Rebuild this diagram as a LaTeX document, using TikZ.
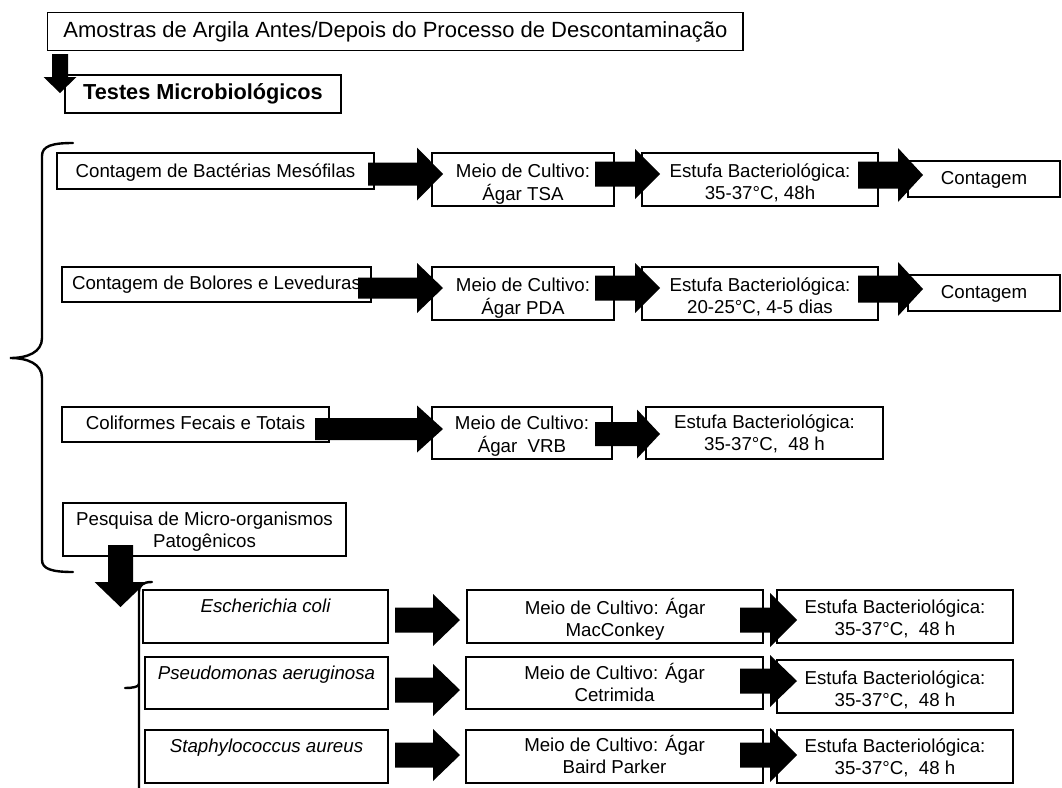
\documentclass[tikz,border=0pt]{standalone}
\usepackage{fontspec}
\setmainfont{Liberation Sans}
\usetikzlibrary{calc}
\tikzset{
  box/.style={draw=black, line width=1.2pt, fill=white, inner sep=0pt},
  txt/.style={inner sep=0pt, anchor=base, font=\fontsize{18.7}{22}\selectfont},
  brace/.style={draw=black, line width=2.4pt, line cap=round},
}
% name, x1, y1, x2, y2, text, baseline offset from top
\newcommand\mybox[7]{%
  \node[box, minimum width={#4pt-#2pt}, minimum height={#5pt-#3pt}] (#1) at ({(#2+#4)/2},{(#3+#5)/2}) {};
  \node[txt] (#1t) at ($(#1.north)+(0,#7)$) {\begin{tabular}[t]{@{}c@{}}#6\end{tabular}};}
% tail x, head base x, tip x, centre y, shaft half, head half
\newcommand\harrow[6]{\fill[black] (#1,{#4-#5}) -- (#2,{#4-#5}) -- (#2,{#4-#6}) -- (#3,#4) -- (#2,{#4+#6}) -- (#2,{#4+#5}) -- (#1,{#4+#5}) -- cycle;}
% centre x, tail y, head base y, tip y, shaft half, head half
\newcommand\varrow[6]{\fill[black] ({#1-#5},#2) -- ({#1+#5},#2) -- ({#1+#5},#3) -- ({#1+#6},#3) -- (#1,#4) -- ({#1-#6},#3) -- ({#1-#5},#3) -- cycle;}
\begin{document}
\begin{tikzpicture}[x=1pt,y=-1pt]
\useasboundingbox[fill=white] (0,0) rectangle (1062,787);
% header
\mybox{top}{47.7}{12.7}{743}{50.7}{\fontsize{22}{24}\selectfont Amostras de Argila Antes/Depois do Processo de Descontaminação}{25.6}
\mybox{testes}{65}{75}{341}{113}{\fontsize{21.7}{24}\selectfont\bfseries Testes Microbiológicos}{25}
% row 1
\mybox{b1}{57}{153}{374}{189}{Contagem de Bactérias Mesófilas}{25}
\mybox{b2}{432}{153}{614}{206}{Meio de Cultivo:\\Ágar TSA}{25}
\mybox{b3}{642}{153}{878}{206}{Estufa Bacteriológica:\\35-37°C, 48h}{25}
\mybox{b4}{908}{161}{1060}{197}{Contagem}{24}
% row 2
\mybox{c1}{62}{267}{371}{302}{Contagem de Bolores e Leveduras}{23}
\mybox{c2}{432}{267}{614}{320}{Meio de Cultivo:\\Ágar PDA}{25}
\mybox{c3}{642}{267}{878}{320}{Estufa Bacteriológica:\\20-25°C, 4-5 dias}{25}
\mybox{c4}{908}{275}{1060}{311}{Contagem}{24}
% row 3
\mybox{d1}{62}{407}{329}{442}{Coliformes Fecais e Totais}{23}
\mybox{d2}{432}{407}{612}{459}{Meio de Cultivo:\\Ágar\ \ VRB}{23}
\mybox{d3}{646}{407}{883}{459}{Estufa Bacteriológica:\\35-37°C,\ \ 48 h}{22}
% row 4
\mybox{e1}{63}{503}{346}{556}{Pesquisa de Micro-organismos\\Patogênicos}{23}
% lower section
\mybox{f1}{143}{590}{388}{643}{\itshape Escherichia coli}{23}
\mybox{f2}{145}{657}{388}{709}{\itshape Pseudomonas aeruginosa}{23}
\mybox{f3}{145}{730}{388}{783}{\itshape Staphylococcus aureus}{23}
\mybox{g1}{467}{590}{763}{643}{Meio de Cultivo: Ágar\\MacConkey}{25}
\mybox{g2}{466}{657}{763}{709}{Meio de Cultivo: Ágar\\Cetrimida}{23}
\mybox{g3}{466}{730}{763}{783}{Meio de Cultivo: Ágar\\Baird Parker}{22}
\mybox{h1}{777}{590}{1013}{643}{Estufa Bacteriológica:\\35-37°C,\ \ 48 h}{24}
\mybox{h2}{777}{660}{1013}{713}{Estufa Bacteriológica:\\35-37°C,\ \ 48 h}{25}
\mybox{h3}{777}{730}{1013}{783}{Estufa Bacteriológica:\\35-37°C,\ \ 48 h}{23}
% block arrows
\varrow{60}{54}{77}{93}{8}{16.5}
\harrow{368}{417}{443}{174}{11.5}{26.5}
\harrow{595}{635}{660}{174}{12.5}{25}
\harrow{858}{898}{923}{175}{13.5}{27}
\harrow{358}{417}{443}{288}{10.5}{25}
\harrow{595}{635}{660}{288}{12.5}{25}
\harrow{858}{898}{923}{289}{13.5}{27}
\harrow{315}{417}{443}{429}{11}{23.5}
\harrow{595}{637}{660}{434}{12}{24.5}
\varrow{120.5}{545}{582}{607}{12.5}{26}
\harrow{395}{433}{460}{620}{12.5}{26}
\harrow{395}{433}{460}{690}{12.5}{26}
\harrow{395}{433}{460}{755}{12.5}{26}
\harrow{740}{770}{797}{620}{12.5}{27}
\harrow{740}{770}{797}{681}{12.5}{26}
\harrow{740}{770}{797}{755}{12.5}{27}
% braces
\draw[brace] (73,143) .. controls (52,143) and (42,146) .. (42,156) -- (42,338) .. controls (42,352) and (28,358) .. (10,358) .. controls (28,358) and (42,364) .. (42,378) -- (42,560) .. controls (42,569) and (52,572) .. (73,572);
\draw[brace] (152,582) .. controls (143,582) and (139,585) .. (139,592) -- (139,790);
\draw[brace] (125,688) .. controls (132,688) and (139,687) .. (139,684);
\end{tikzpicture}
\end{document}
